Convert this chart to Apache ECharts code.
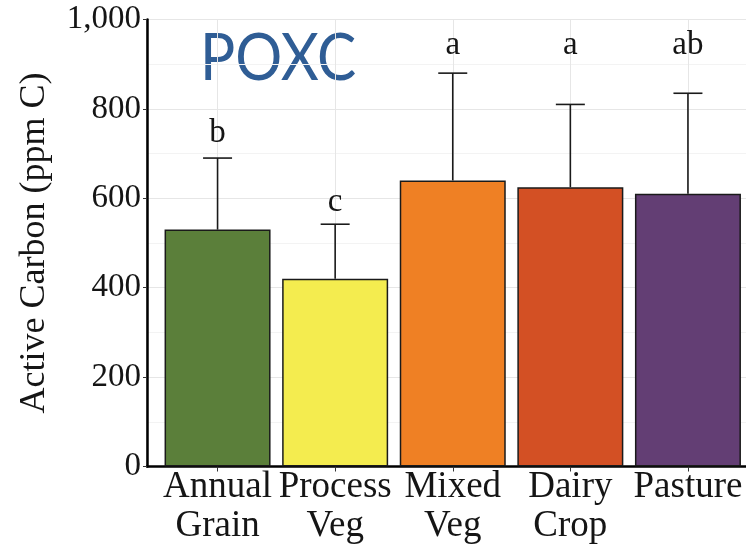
<!DOCTYPE html>
<html>
<head>
<meta charset="utf-8">
<script src="https://cdn.jsdelivr.net/npm/echarts@6/dist/echarts.min.js"></script>
<style>
  html, body { margin: 0; padding: 0; background: #fff; }
  #chart { width: 746px; height: 549px; }
</style>
</head>
<body>
<div id="chart"></div>
<script>
// Land-use categories (x axis)
const categories = ['Annual\nGrain', 'Process\nVeg', 'Mixed\nVeg', 'Dairy\nCrop', 'Pasture'];
// Mean active carbon per category (ppm C)
const meanCarbon = [530, 420, 640, 625, 610];
// Upper end of the error bar (mean + SD)
const upperCarbon = [690, 542, 880, 810, 835];
// Significance group letters and the height (ppm C) where each sits
const groupLetters = ['b', 'c', 'a', 'a', 'ab'];
const letterHeight = [745, 592, 943, 943, 943];
// Y axis ticks
const yTicks = [0, 200, 400, 600, 800, 1000];

const barColors = ['#5B7F3A', '#F4EC4F', '#EF8024', '#D35024', '#633E74'];
const positions = categories.map((_, i) => i + 1);

const serif = '"Liberation Serif", "DejaVu Serif", serif';

const chart = echarts.init(document.getElementById('chart'));

const option = {
  animation: false,
  backgroundColor: '#ffffff',
  grid: {
    left: 147, top: 19.5, height: 447, width: 611.5,
    containLabel: false, outerBoundsMode: 'none',
    show: true, borderColor: '#8c8c8c', borderWidth: 1, backgroundColor: 'transparent'
  },
  xAxis: {
    type: 'value',
    min: 0.4, max: 5.6,
    axisLine: { show: true, onZero: false, lineStyle: { color: '#000', width: 2.5 } },
    axisTick: { show: true, customValues: positions, length: 5, lineStyle: { color: '#333', width: 1 } },
    axisLabel: {
      customValues: positions,
      formatter: v => categories[Math.round(v) - 1],
      fontFamily: serif, fontSize: 37, color: '#151515', lineHeight: 39, margin: 1
    },
    splitLine: { show: true, lineStyle: { color: '#e6e6e6', width: 1 } }
  },
  yAxis: {
    type: 'value',
    min: yTicks[0], max: yTicks[yTicks.length - 1], interval: 200,
    name: 'Active Carbon (ppm C)',
    nameLocation: 'middle', nameGap: 94, nameRotate: 90,
    nameTextStyle: { fontFamily: serif, fontSize: 36, color: '#151515' },
    axisLine: { show: true, lineStyle: { color: '#000', width: 2.5 } },
    axisTick: { show: true, length: 4, lineStyle: { color: '#333', width: 1 } },
    axisLabel: {
      fontFamily: serif, fontSize: 33, color: '#151515', margin: 6,
      formatter: v => v.toLocaleString('en-US')
    },
    splitLine: { show: true, lineStyle: { color: '#e6e6e6', width: 1 } },
    minorTick: { show: false, splitNumber: 2 },
    minorSplitLine: { show: true, lineStyle: { color: '#f3f3f3', width: 1 } }
  },
  graphic: [{
    type: 'text', left: 200, top: 26,
    style: { text: 'POXC', fontFamily: 'Lato, "Open Sans", sans-serif', fontSize: 66, fill: '#2F5D95' },
    scaleX: 0.89
  }],
  series: [
    {
      type: 'bar',
      barWidth: 106,
      data: meanCarbon.map((v, i) => ({
        value: [positions[i], v],
        itemStyle: { color: barColors[i], borderColor: '#1a1a1a', borderWidth: 1.5 }
      })),
      z: 2
    },
    {
      type: 'custom',
      z: 3,
      data: upperCarbon.map((u, i) => [positions[i], meanCarbon[i], u]),
      renderItem: (params, api) => {
        const x = api.value(0);
        const base = api.coord([x, api.value(1)]);
        const top = api.coord([x, api.value(2)]);
        const half = 14.5;
        const style = { stroke: '#1a1a1a', lineWidth: 1.6 };
        return {
          type: 'group',
          children: [
            { type: 'line', shape: { x1: base[0], y1: base[1], x2: top[0], y2: top[1] }, style },
            { type: 'line', shape: { x1: top[0] - half, y1: top[1], x2: top[0] + half, y2: top[1] }, style }
          ]
        };
      }
    },
    {
      type: 'custom',
      z: 4,
      data: letterHeight.map((h, i) => [positions[i], h, groupLetters[i]]),
      renderItem: (params, api) => {
        const p = api.coord([api.value(0), api.value(1)]);
        return {
          type: 'text',
          style: {
            text: groupLetters[params.dataIndex], x: p[0], y: p[1],
            align: 'center', verticalAlign: 'middle',
            fontFamily: serif, fontSize: 33, fill: '#151515'
          }
        };
      }
    }
  ]
};

chart.setOption(option);
</script>
</body>
</html>
